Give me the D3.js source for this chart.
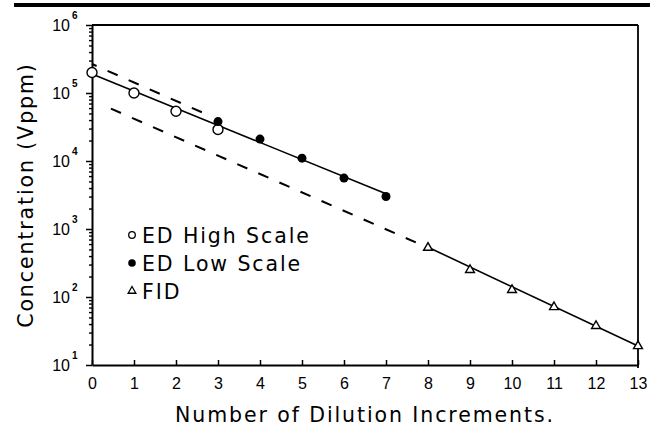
<!DOCTYPE html>
<html>
<head>
<meta charset="utf-8">
<script src="https://cdn.jsdelivr.net/npm/d3@7/dist/d3.min.js"></script>
<style>
  html, body { margin: 0; padding: 0; background: #fff; }
  svg { display: block; }
</style>
</head>
<body>
<svg id="chart" width="650" height="432"></svg>
<script>
// Dilution series: concentration vs. number of dilution increments
const xTicks = [0, 1, 2, 3, 4, 5, 6, 7, 8, 9, 10, 11, 12, 13];
const yDecades = [1e1, 1e2, 1e3, 1e4, 1e5, 1e6];
const yExponents = ["1", "2", "3", "4", "5", "6"];

// ED high scale (open circles)
const highX = [0, 1, 2, 3];
const highY = [2.0e5, 1.0e5, 5.4e4, 2.9e4];
// ED low scale (filled circles)
const lowX = [3, 4, 5, 6, 7];
const lowY = [3.8e4, 2.1e4, 1.1e4, 5.6e3, 3.0e3];
// FID (open triangles)
const fidX = [8, 9, 10, 11, 12, 13];
const fidY = [530, 250, 127, 71, 37.5, 19];

// Fitted lines
const edFitX = [0, 7];
const edFitY = [1.9e5, 3.3e3];
const fidFitX = [8, 13];
const fidFitY = [540, 19];
// Dashed reference lines
const upperDashX = [0, 2.75];
const upperDashY = [2.67e5, 4.8e4];
const lowerDashX = [0.45, 8];
const lowerDashY = [5.9e4, 530];

const legendLabels = ["ED High Scale", "ED Low Scale", "FID"];

const svg = d3.select("#chart");
const plotL = 92, plotR = 638, plotT = 25, plotB = 365;

const x = d3.scaleLinear().domain([0, 13]).range([plotL, plotR]);
const y = d3.scaleLog().domain([10, 1e6]).range([plotB, plotT]);

const titleFont = "'DejaVu Sans', sans-serif";
const tickFont = "'Liberation Sans', Arial, sans-serif";

// page rule above the figure
svg.append("rect").attr("x", 14).attr("y", 3).attr("width", 636).attr("height", 4).attr("fill", "#000");

// frame: top and right edges
svg.append("line").attr("x1", plotL).attr("x2", plotR).attr("y1", plotT).attr("y2", plotT)
  .attr("stroke", "#000").attr("stroke-width", 1.8);
svg.append("line").attr("x1", plotR).attr("x2", plotR).attr("y1", plotT).attr("y2", plotB + 3)
  .attr("stroke", "#000").attr("stroke-width", 1.8);

// x axis
const xAxis = svg.append("g").attr("transform", `translate(0,${plotB})`)
  .call(d3.axisBottom(x).tickValues(xTicks).tickSizeInner(-5).tickSizeOuter(0).tickFormat(d3.format("d")));
xAxis.select(".domain").attr("stroke-width", 2);
xAxis.selectAll(".tick line").attr("stroke-width", 1.5);
xAxis.selectAll(".tick text").attr("font-family", tickFont).attr("font-size", 16)
  .attr("y", 13).attr("dy", "0.71em").attr("fill", "#000");

// y axis: minor ticks
const minorVals = [];
for (let e = 1; e < 6; e++) for (let m = 2; m <= 9; m++) minorVals.push(m * Math.pow(10, e));
const yMinor = svg.append("g").attr("transform", `translate(${plotL},0)`)
  .call(d3.axisLeft(y).tickValues(minorVals).tickSize(3).tickFormat(""));
yMinor.select(".domain").remove();
yMinor.selectAll(".tick line").attr("stroke-width", 1.4);

// y axis: decades
const yAxis = svg.append("g").attr("transform", `translate(${plotL},0)`)
  .call(d3.axisLeft(y).tickValues(yDecades).tickSize(6).tickSizeOuter(0).tickFormat(""));
yAxis.select(".domain").attr("stroke-width", 2);
yAxis.selectAll(".tick line").attr("stroke-width", 1.5);

const yLab = svg.append("g");
yDecades.forEach((v, i) => {
  yLab.append("text").attr("font-family", tickFont).attr("fill", "#000")
    .attr("x", 70).attr("y", y(v) + 6).attr("font-size", 16).attr("text-anchor", "end").text("10");
  yLab.append("text").attr("font-family", tickFont).attr("font-weight", "bold").attr("fill", "#000")
    .attr("x", 72).attr("y", y(v) - 6).attr("font-size", 10).text(yExponents[i]);
});

// axis titles
svg.append("text").attr("font-family", titleFont).attr("font-size", 20.5)
  .attr("letter-spacing", 1.9).attr("text-anchor", "middle")
  .attr("transform", `translate(33,${(plotT + plotB) / 2}) rotate(-90)`)
  .text("Concentration (Vppm)");
svg.append("text").attr("font-family", titleFont).attr("font-size", 20.5)
  .attr("letter-spacing", 1.9).attr("text-anchor", "middle")
  .attr("x", (plotL + plotR) / 2).attr("y", 422)
  .text("Number of Dilution Increments.");

// lines
const line = d3.line().x(d => x(d[0])).y(d => y(d[1]));
const pairs = (xs, ys) => xs.map((v, i) => [v, ys[i]]);

svg.append("path").datum(pairs(edFitX, edFitY)).attr("d", line)
  .attr("fill", "none").attr("stroke", "#000").attr("stroke-width", 1.6);
svg.append("path").datum(pairs(fidFitX, fidFitY)).attr("d", line)
  .attr("fill", "none").attr("stroke", "#000").attr("stroke-width", 1.6);
svg.append("path").datum(pairs(upperDashX, upperDashY)).attr("d", line)
  .attr("fill", "none").attr("stroke", "#000").attr("stroke-width", 2)
  .attr("stroke-dasharray", "11,12").attr("stroke-dashoffset", 6);
svg.append("path").datum(pairs(lowerDashX, lowerDashY)).attr("d", line)
  .attr("fill", "none").attr("stroke", "#000").attr("stroke-width", 2)
  .attr("stroke-dasharray", "11,12");

// markers
const tri = d3.symbol().type(d3.symbolTriangle).size(34);

svg.append("g").selectAll("circle").data(pairs(highX, highY)).join("circle")
  .attr("cx", d => x(d[0])).attr("cy", d => y(d[1])).attr("r", 5)
  .attr("fill", "#fff").attr("stroke", "#000").attr("stroke-width", 1.4);
svg.append("g").selectAll("circle").data(pairs(lowX, lowY)).join("circle")
  .attr("cx", d => x(d[0])).attr("cy", d => y(d[1])).attr("r", 4.5)
  .attr("fill", "#000");
svg.append("g").selectAll("path").data(pairs(fidX, fidY)).join("path")
  .attr("d", tri).attr("transform", d => `translate(${x(d[0])},${y(d[1])})`)
  .attr("fill", "#fff").attr("stroke", "#000").attr("stroke-width", 1.4);

// legend
const legY = [235, 263, 291];
const leg = svg.append("g");
leg.append("circle").attr("cx", 132).attr("cy", legY[0]).attr("r", 3.3)
  .attr("fill", "#fff").attr("stroke", "#000").attr("stroke-width", 1.3);
leg.append("circle").attr("cx", 132).attr("cy", legY[1]).attr("r", 3.8).attr("fill", "#000");
leg.append("path").attr("d", d3.symbol().type(d3.symbolTriangle).size(26))
  .attr("transform", `translate(132,${legY[2]})`)
  .attr("fill", "#fff").attr("stroke", "#000").attr("stroke-width", 1.3);
legendLabels.forEach((s, i) => {
  leg.append("text").attr("font-family", titleFont).attr("font-size", 20.5)
    .attr("letter-spacing", 1.9).attr("x", 142).attr("y", legY[i] + 8).text(s);
});
</script>
</body>
</html>
